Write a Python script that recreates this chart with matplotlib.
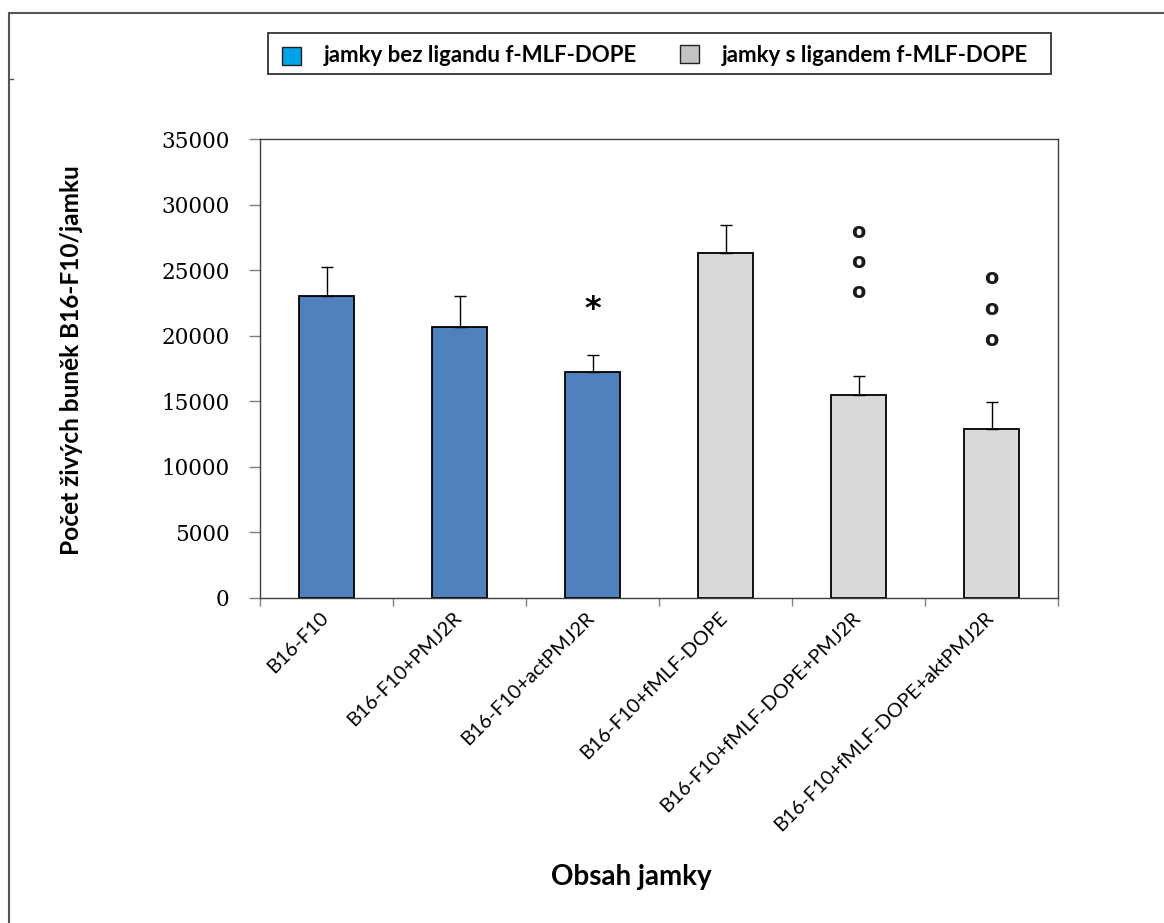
import matplotlib
matplotlib.use("Agg")
import matplotlib.pyplot as plt
from matplotlib.patches import Rectangle
from matplotlib.lines import Line2D
import matplotlib.transforms as mtransforms
import numpy as np

# ---- data ----
categories = ["B16-F10", "B16-F10+PMJ2R", "B16-F10+actPMJ2R", "B16-F10+fMLF-DOPE",
              "B16-F10+fMLF-DOPE+PMJ2R", "B16-F10+fMLF-DOPE+aktPMJ2R"]
values = [23050, 20640, 17210, 26310, 15460, 12910]
errors = [2190, 2410, 1320, 2160, 1490, 2040]
groups = ["bez", "bez", "bez", "s", "s", "s"]
legend_labels = ["jamky bez ligandu f-MLF-DOPE", "jamky s ligandem f-MLF-DOPE"]
yticks = [0, 5000, 10000, 15000, 20000, 25000, 30000, 35000]
# significance marks: (category index, y value, symbol)
marks = [(2, 22000, "*"),
         (4, 27900, "o"), (4, 25600, "o"), (4, 23300, "o"),
         (5, 24400, "o"), (5, 22000, "o"), (5, 19700, "o")]

bar_colors = {"bez": "#4F81BD", "s": "#D9D9D9"}
legend_colors = ["#00A2E8", "#C3C3C3"]

W, H = 1164, 923
fig = plt.figure(figsize=(W / 100, H / 100), dpi=100)
fig.patch.set_facecolor("white")

ax = fig.add_axes([260 / W, 1 - 598 / H, (1058 - 260) / W, (598 - 139) / H])
x = np.arange(len(categories))
ax.bar(x, values, width=0.41, color=[bar_colors[g] for g in groups],
       edgecolor="black", linewidth=1.3, zorder=2)
ax.errorbar(x, values, yerr=[np.zeros(len(values)), errors], fmt="none",
            ecolor="black", elinewidth=1, capsize=4, capthick=1, zorder=3)

ax.set_xlim(-0.5, len(categories) - 0.5)
ax.set_ylim(0, 35000)
ax.set_yticks(yticks)
ax.set_yticklabels([str(v) for v in yticks], fontfamily="DejaVu Serif", fontsize=15.5)
ax.tick_params(axis="y", direction="out", length=8, width=1, color="#808080", pad=14)

ax.set_xticks(x)
ax.set_xticklabels(categories, rotation=45, ha="right", va="top",
                   fontfamily="Lato", fontsize=14.4)
ax.tick_params(axis="x", length=0, pad=8)
offset = mtransforms.ScaledTranslation(5 / 100, 0, fig.dpi_scale_trans)
for lbl in ax.get_xticklabels():
    lbl.set_transform(lbl.get_transform() + offset)
ax.set_xticks(np.arange(-0.5, len(categories)), minor=True)
ax.tick_params(axis="x", which="minor", direction="out", length=6, width=1, color="#808080")

for s in ax.spines.values():
    s.set_color("#404040")
    s.set_linewidth(1)

for i, yv, sym in marks:
    if sym == "*":
        ax.text(i, yv, sym, ha="center", va="center", fontsize=23, fontweight="bold",
                fontfamily="DejaVu Sans")
    else:
        ax.text(i, yv, sym, ha="center", va="center", fontsize=15, fontweight="bold",
                fontfamily="DejaVu Sans", color="#1a1a1a")

fig.text(72 / W, 1 - 360 / H, "Počet živých buněk B16-F10/jamku", rotation=90,
         ha="center", va="center", fontsize=17.6, fontweight="bold", fontfamily="Lato")
fig.text(631 / W, 1 - 877 / H, "Obsah jamky", ha="center", va="center",
         fontsize=20, fontweight="bold", fontfamily="Lato")

# legend box
fig.patches.append(Rectangle((268 / W, 1 - 74 / H), (1051 - 268) / W, (74 - 33) / H,
                             transform=fig.transFigure, facecolor="white",
                             edgecolor="#333333", linewidth=1.3))
sq = [(282, 47), (680, 45)]
tx = [324, 722]
for (sx, sy), t, lab, c in zip(sq, tx, legend_labels, legend_colors):
    fig.patches.append(Rectangle((sx / W, 1 - (sy + 18) / H), 19 / W, 18 / H,
                                 transform=fig.transFigure, facecolor=c,
                                 edgecolor="#222222", linewidth=1))
    fig.text(t / W, 1 - 56 / H, lab, ha="left", va="center", fontsize=16,
             fontweight="bold", fontfamily="Lato")

# outer frame (top and left lines)
fig.lines.append(Line2D([9 / W, 1], [1 - 13 / H, 1 - 13 / H], transform=fig.transFigure,
                        color="#555555", linewidth=1.5))
fig.lines.append(Line2D([9 / W, 9 / W], [0, 1 - 13 / H], transform=fig.transFigure,
                        color="#555555", linewidth=1.5))
fig.lines.append(Line2D([9 / W, 13 / W], [1 - 79 / H, 1 - 79 / H], transform=fig.transFigure,
                        color="#555555", linewidth=1))

fig.savefig("out.png", dpi=100, facecolor="white")
